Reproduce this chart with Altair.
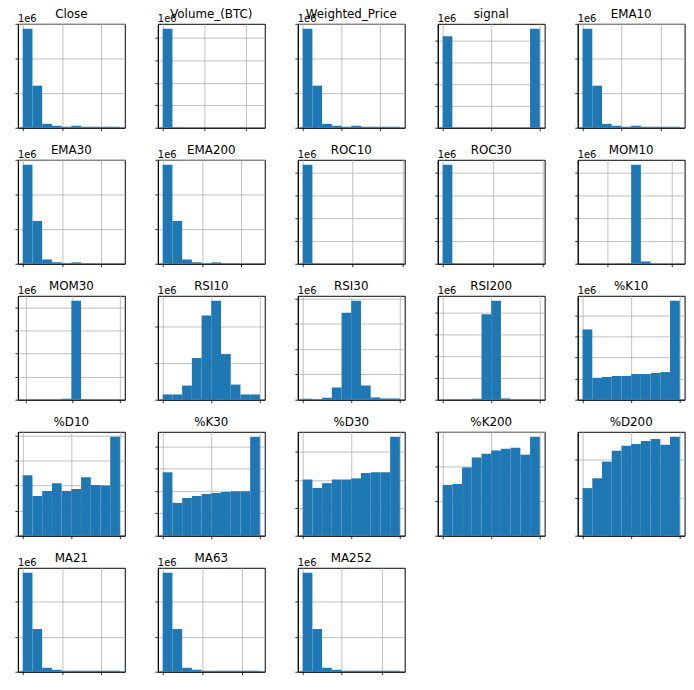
import altair as alt
import pandas as pd

# Panel names in the order of the 5x5 grid
names = ["Close", "Volume_(BTC)", "Weighted_Price", "signal", "EMA10",
         "EMA30", "EMA200", "ROC10", "ROC30", "MOM10",
         "MOM30", "RSI10", "RSI30", "RSI200", "%K10",
         "%D10", "%K30", "%D30", "%K200", "%D200",
         "MA21", "MA63", "MA252"]

# Histogram counts (10 bins each), in millions of rows
close = [2.87, 1.22, 0.113, 0.057, 0.028, 0.057, 0.028, 0.028, 0.028, 0.028]
volume = [4.40, 0.004, 0.001, 0.001, 0.0005, 0.0003, 0.0002, 0.0001, 0.0001, 0.0001]
weighted = [2.87, 1.22, 0.113, 0.057, 0.028, 0.057, 0.028, 0.028, 0.028, 0.028]
signal = [2.09, 0, 0, 0, 0, 0, 0, 0, 0, 2.26]
ema10 = [2.87, 1.22, 0.113, 0.057, 0.028, 0.057, 0.028, 0.028, 0.028, 0.028]
ema30 = [2.87, 1.24, 0.124, 0.04, 0.01, 0.04, 0.005, 0.005, 0.005, 0.005]
ema200 = [2.87, 1.24, 0.124, 0.04, 0.01, 0.04, 0.005, 0.005, 0.005, 0.005]
roc10 = [4.36, 0.003, 0.001, 0.0005, 0.0003, 0.0002, 0.0001, 0.0001, 0.0001, 0.0001]
roc30 = [4.36, 0.004, 0.001, 0.0005, 0.0003, 0.0002, 0.0001, 0.0001, 0.0001, 0.0001]
mom10 = [0.0001, 0.0002, 0.0005, 0.001, 0.01, 4.33, 0.1, 0.001, 0.0002, 0.0001]
mom30 = [0.0, 0.0, 0.0002, 0.001, 0.045, 4.30, 0.01, 0.001, 0.0, 0.0]
rsi10 = [0.072, 0.072, 0.194, 0.572, 1.153, 1.355, 0.625, 0.207, 0.072, 0.072]
rsi30 = [0.02, 0.005, 0.04, 0.24, 1.72, 1.955, 0.28, 0.045, 0.025, 0.025]
rsi200 = [0.0, 0.0, 0.0005, 0.022, 1.97, 2.28, 0.03, 0.001, 0.0, 0.0]
k10 = [0.835, 0.26, 0.27, 0.283, 0.283, 0.305, 0.305, 0.318, 0.328, 1.175]
d10 = [0.484, 0.318, 0.358, 0.42, 0.358, 0.374, 0.468, 0.406, 0.402, 0.792]
k30 = [0.568, 0.294, 0.338, 0.356, 0.374, 0.382, 0.392, 0.398, 0.398, 0.886]
d30 = [0.402, 0.342, 0.376, 0.402, 0.402, 0.41, 0.448, 0.454, 0.454, 0.708]
k200 = [0.294, 0.30, 0.396, 0.454, 0.476, 0.494, 0.504, 0.51, 0.47, 0.574]
d200 = [0.251, 0.303, 0.391, 0.448, 0.474, 0.484, 0.50, 0.51, 0.48, 0.522]
ma21 = [2.83, 1.22, 0.113, 0.057, 0.028, 0.028, 0.028, 0.028, 0.028, 0.028]
ma63 = [2.83, 1.22, 0.113, 0.057, 0.028, 0.028, 0.028, 0.028, 0.028, 0.028]
ma252 = [2.83, 1.22, 0.113, 0.057, 0.028, 0.028, 0.028, 0.028, 0.028, 0.028]

counts_list = [close, volume, weighted, signal, ema10, ema30, ema200, roc10, roc30,
               mom10, mom30, rsi10, rsi30, rsi200, k10, d10, k30, d30, k200, d200,
               ma21, ma63, ma252]

# x tick / grid positions, in bin units (0 = first bin edge, 10 = last bin edge)
xgrid_list = [
    [0, 4.04, 8.06], [0, 4.27, 8.54], [0, 3.98, 7.96], [0, 5, 10], [0, 4.0, 8.03],
    [0, 4.04, 8.03], [0, 4.1, 8.06], [0, 5.15, 10.3], [0, 5.2, 10.3], [2.51, 9.19],
    [0.34, 5.15, 9.96], [0, 5, 10], [0, 5, 10], [0, 5, 10], [0, 5, 10],
    [0, 5, 10], [0, 5, 10], [0, 5, 10], [0, 5, 10], [0, 5, 10],
    [0, 4.07, 8.03], [0, 4.07, 8.14], [0, 4.03, 8.14],
]

# y tick step, in millions
ystep_list = [1, 1, 1, 0.5, 1,
              1, 1, 1, 1, 1,
              1, 0.5, 0.5, 0.5, 0.25,
              0.2, 0.2, 0.2, 0.2, 0.2,
              1, 1, 1]

# offset text shown above the y axis
offset_list = ["1e6"] * 15 + [""] * 5 + ["1e6"] * 3

W, H = 108, 105
BLUE = "#1f77b4"


def panel(i):
    name = names[i]
    c = counts_list[i]
    df = pd.DataFrame({"lo": list(range(10)), "hi": list(range(1, 11)), "count": c})
    ymax = 1.05 * max(c)
    step = ystep_list[i]
    n = int(ymax / step + 1e-9)
    yvals = [round(k * step, 4) for k in range(n + 1)]
    bars = alt.Chart(df).mark_bar(color=BLUE).encode(
        x=alt.X("lo:Q", scale=alt.Scale(domain=[-0.5, 10.5], nice=False, zero=False),
                axis=alt.Axis(values=xgrid_list[i], labels=False, title=None)),
        x2="hi:Q",
        y=alt.Y("count:Q", scale=alt.Scale(domain=[0, ymax], nice=False),
                axis=alt.Axis(values=yvals, labels=False, title=None)),
        y2=alt.datum(0),
    )
    tdf = pd.DataFrame({"t": [name], "o": [offset_list[i]]})
    title = alt.Chart(tdf).mark_text(fontSize=12, align="center", baseline="alphabetic",
                                     color="black").encode(
        text="t:N", x=alt.value(W / 2), y=alt.value(-5.5))
    layers = [bars, title]
    if offset_list[i]:
        off = alt.Chart(tdf).mark_text(fontSize=10, align="left", baseline="alphabetic",
                                       color="black").encode(
            text="o:N", x=alt.value(0), y=alt.value(-2))
        layers.append(off)
    return alt.layer(*layers).properties(width=W, height=H)


rows = []
for r in range(0, len(names), 5):
    rows.append(alt.hconcat(*[panel(i) for i in range(r, min(r + 5, len(names)))], spacing=28.4))

chart = alt.vconcat(*rows, spacing=12.4).properties(
    padding={"left": 6.0, "top": -3.5, "right": 0, "bottom": 0}
).configure(font="DejaVu Sans").configure_view(
    stroke="black", strokeWidth=1
).configure_axis(
    domainColor="black", domainWidth=1, tickColor="black", tickSize=3, tickWidth=0.8,
    gridColor="#b0b0b0", gridWidth=0.8, grid=True, zindex=1
)

chart.save("out.html", embed_options={"renderer": "svg", "actions": False})
